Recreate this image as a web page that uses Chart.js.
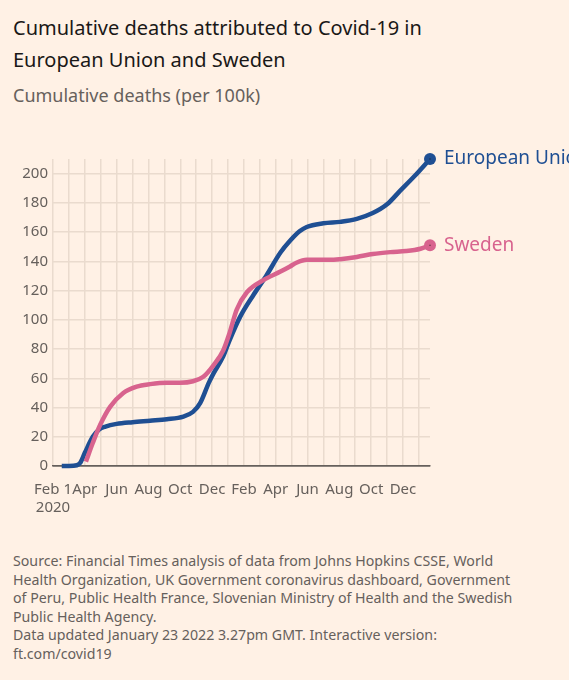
<!DOCTYPE html>
<html>
<head>
<meta charset="utf-8">
<script src="https://cdn.jsdelivr.net/npm/chart.js@4"></script>
<style>
  html, body { margin: 0; padding: 0; background: #fff1e5; }
  body { width: 569px; height: 680px; position: relative; overflow: hidden; font-family: "Noto Sans", sans-serif; }
  .title { position: absolute; left: 13px; top: 12px; font-size: 20px; line-height: 32px; color: #1a1817; white-space: nowrap; }
  .subtitle { position: absolute; left: 13px; top: 83px; font-size: 18px; line-height: 24px; color: #66605c; white-space: nowrap; }
  .chart-box { position: absolute; left: 0; top: 140px; width: 569px; height: 390px; }
  .footer { position: absolute; left: 13px; top: 552px; font-size: 14.2px; line-height: 18.6px; color: #66605c; white-space: nowrap; }
</style>
</head>
<body>
<div class="title">Cumulative deaths attributed to Covid-19 in<br>European Union and Sweden</div>
<div class="subtitle">Cumulative deaths (per 100k)</div>
<div class="chart-box"><canvas id="myChart" width="569" height="390"></canvas></div>
<div class="footer">Source: Financial Times analysis of data from Johns Hopkins CSSE, World<br>Health Organization, UK Government coronavirus dashboard, Government<br>of Peru, Public Health France, Slovenian Ministry of Health and the Swedish<br>Public Health Agency.<br>Data updated January 23 2022 3.27pm GMT. Interactive version:<br>ft.com/covid19</div>
<script>
// x values are months since Feb 1 2020
const euMonths = [0.55, 1.0, 1.5, 1.7, 2.0, 2.5, 2.9, 3.3, 4.0, 5.0, 6.1, 7.15, 8.2, 8.8, 9.25, 9.8, 10.1, 10.7, 11.1, 11.76, 12.6, 13.4, 14.3, 14.9, 15.5, 15.95, 17.0, 18.05, 19.1, 20.1, 21.0, 21.8, 22.7, 23.7];
const euDeaths = [0, 0, 0.5, 2, 9, 20, 25, 27, 28.8, 30, 31, 32, 33.8, 37, 43, 57, 63.5, 75, 86, 102, 117, 130, 146, 154, 160.5, 163.5, 166, 167, 169, 173, 179, 188, 198, 210];

const seMonths = [2.07, 2.5, 2.96, 3.6, 4.4, 5.26, 6.1, 7.15, 8.0, 8.8, 9.45, 10.1, 10.7, 11.1, 11.55, 12.2, 13.2, 14.3, 14.9, 15.3, 15.95, 17.4, 18.05, 19.1, 20.1, 21.2, 22.2, 23.1, 23.7];
const seDeaths = [3, 15.7, 28, 40.6, 49.8, 54.3, 56, 57, 57, 58, 61, 69, 79, 91, 107, 119, 127, 133, 136.5, 139, 141, 141, 141.5, 143, 145, 146.3, 147, 148.6, 151];

const xTickLabels = [['Feb 1', '2020'], '', 'Apr', '', 'Jun', '', 'Aug', '', 'Oct', '', 'Dec', '',
                     'Feb', '', 'Apr', '', 'Jun', '', 'Aug', '', 'Oct', '', 'Dec', ''];
const yTicks = [0, 20, 40, 60, 80, 100, 120, 140, 160, 180, 200];
const seriesNames = ['European Union', 'Sweden'];

const blue = '#1f4f93';
const pink = '#d8638e';
const grey = '#66605c';
const gridColor = '#eadbce';

const toPoints = (xs, ys) => xs.map((x, i) => ({ x: x, y: ys[i] }));
const endDot = (ctx) => ctx.dataIndex === ctx.dataset.data.length - 1 ? 6 : 0;

const endLabels = {
    id: 'endLabels',
    afterDatasetsDraw(chart) {
        const c = chart.ctx;
        c.save();
        c.font = '19px "Noto Sans", sans-serif';
        c.textBaseline = 'middle';
        chart.data.datasets.forEach((ds, i) => {
            const meta = chart.getDatasetMeta(i);
            const pt = meta.data[meta.data.length - 1];
            c.fillStyle = ds.borderColor;
            c.fillText(ds.label, pt.x + 14, pt.y);
            // little centre mark on the end dot
            c.fillStyle = '#1a1817';
            c.fillRect(pt.x - 0.5, pt.y - 0.5, 1, 1);
        });
        c.restore();
    }
};

const ctx = document.getElementById('myChart').getContext('2d');
new Chart(ctx, {
    type: 'line',
    data: {
        datasets: [{
            label: seriesNames[1],
            data: toPoints(seMonths, seDeaths),
            borderColor: pink,
            backgroundColor: pink,
            borderWidth: 4.5,
            pointRadius: endDot,
            pointBorderWidth: 0,
            cubicInterpolationMode: 'monotone',
            clip: false,
            order: 0
        }, {
            label: seriesNames[0],
            data: toPoints(euMonths, euDeaths),
            borderColor: blue,
            backgroundColor: blue,
            borderWidth: 4.5,
            pointRadius: endDot,
            pointBorderWidth: 0,
            cubicInterpolationMode: 'monotone',
            clip: false,
            order: 1
        }]
    },
    options: {
        responsive: false,
        animation: false,
        layout: { padding: { top: 19, right: 139, left: 0, bottom: 0 } },
        plugins: { legend: { display: false }, tooltip: { enabled: false } },
        scales: {
            x: {
                type: 'linear',
                min: 0,
                max: 23.7,
                afterFit: (scale) => { scale.height = 64; },
                afterBuildTicks: (scale) => {
                    scale.ticks = xTickLabels.map((_, i) => ({ value: i }));
                },
                grid: { color: gridColor, lineWidth: 1.5, drawTicks: false },
                border: { color: grey, width: 1.5 },
                ticks: {
                    autoSkip: false,
                    maxRotation: 0,
                    padding: 14,
                    color: grey,
                    font: { family: '"Noto Sans", sans-serif', size: 15, lineHeight: 1.25 },
                    callback: (v) => xTickLabels[v]
                }
            },
            y: {
                min: 0,
                max: 210,
                afterFit: (scale) => { scale.width = 53; },
                afterBuildTicks: (scale) => {
                    scale.ticks = yTicks.map((v) => ({ value: v }));
                },
                grid: {
                    color: (c) => c.tick && c.tick.value === 0 ? grey : gridColor,
                    lineWidth: 1.5,
                    drawTicks: false
                },
                border: { display: false },
                ticks: {
                    padding: 5,
                    color: grey,
                    font: { family: '"Noto Sans", sans-serif', size: 15 }
                }
            }
        }
    },
    plugins: [endLabels]
});
</script>
</body>
</html>
